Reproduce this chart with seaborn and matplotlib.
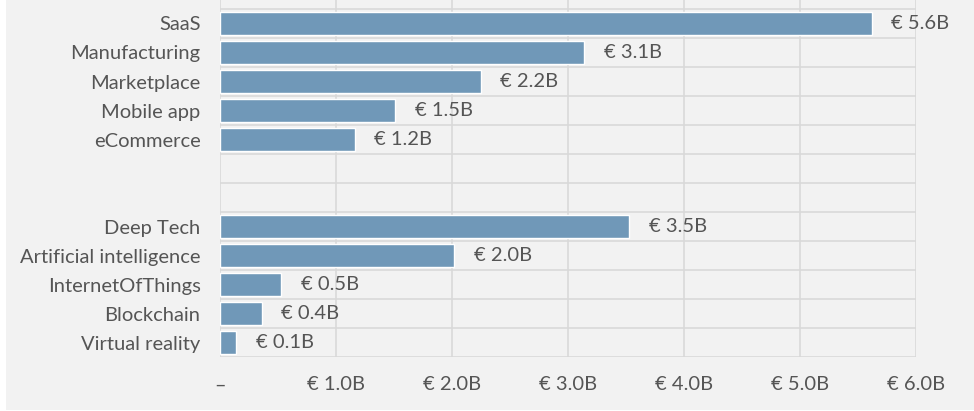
import matplotlib
matplotlib.use("Agg")
import matplotlib.pyplot as plt
import matplotlib.patches as mpatches
import numpy as np
import pandas as pd
import seaborn as sns

categories = ["SaaS", "Manufacturing", "Marketplace", "Mobile app", "eCommerce",
              " ", "  ",
              "Deep Tech", "Artificial intelligence", "InternetOfThings", "Blockchain", "Virtual reality"]
values = [5.62, 3.14, 2.25, 1.51, 1.16,
          np.nan, np.nan,
          3.53, 2.02, 0.53, 0.36, 0.14]
x_ticks = [0, 1, 2, 3, 4, 5, 6]
x_tick_labels = ["–", "€ 1.0B", "€ 2.0B", "€ 3.0B", "€ 4.0B", "€ 5.0B", "€ 6.0B"]

BG = "#f2f2f2"
BAR = "#7098b8"
GRID = "#d9d9d9"
TXT = "#555555"

sns.set_theme(style="white")
plt.rcParams["font.family"] = ["Lato", "DejaVu Sans"]

W, H = 974, 411
fig = plt.figure(figsize=(W / 100, H / 100), dpi=100, facecolor="white")
fig.patches.append(mpatches.Rectangle((6 / W, 1 / H), 1, 1, transform=fig.transFigure,
                                      facecolor=BG, edgecolor="none", zorder=-10))
ax = fig.add_axes([220 / W, (H - 357) / H, (916 - 220) / W, 357 / H])
ax.set_facecolor(BG)

df = pd.DataFrame({"category": categories, "value": values})
sns.barplot(data=df, x="value", y="category", order=categories, color=BAR,
            saturation=1, width=0.82, ax=ax, zorder=3)

# labels
cont = ax.containers[0]
vals = [v for v in values if not np.isnan(v)]
ax.bar_label(cont, labels=[f"€ {v:.1f}B" for v in vals], padding=14,
             fontsize=14.5, color=TXT)

ax.set_xlim(0, 6)
ax.set_ylim(11.5, -0.5 - 9 / 29)
ax.set_xticks(x_ticks)
ax.set_xticklabels(x_tick_labels)
ax.set_yticks(np.arange(-0.5, 12, 1), minor=True)
ax.grid(axis="x", which="major", color=GRID, lw=1.2, zorder=0)
ax.grid(axis="y", which="minor", color=GRID, lw=1.2, zorder=0)
ax.grid(axis="y", which="major", visible=False)
ax.tick_params(axis="both", which="both", length=0, colors=TXT, labelsize=14.5)
ax.tick_params(axis="y", pad=14)
ax.tick_params(axis="x", pad=14)
ax.set_xlabel("")
ax.set_ylabel("")
for s in ax.spines.values():
    s.set_visible(False)

fig.savefig("out.png", dpi=100, facecolor="white")
